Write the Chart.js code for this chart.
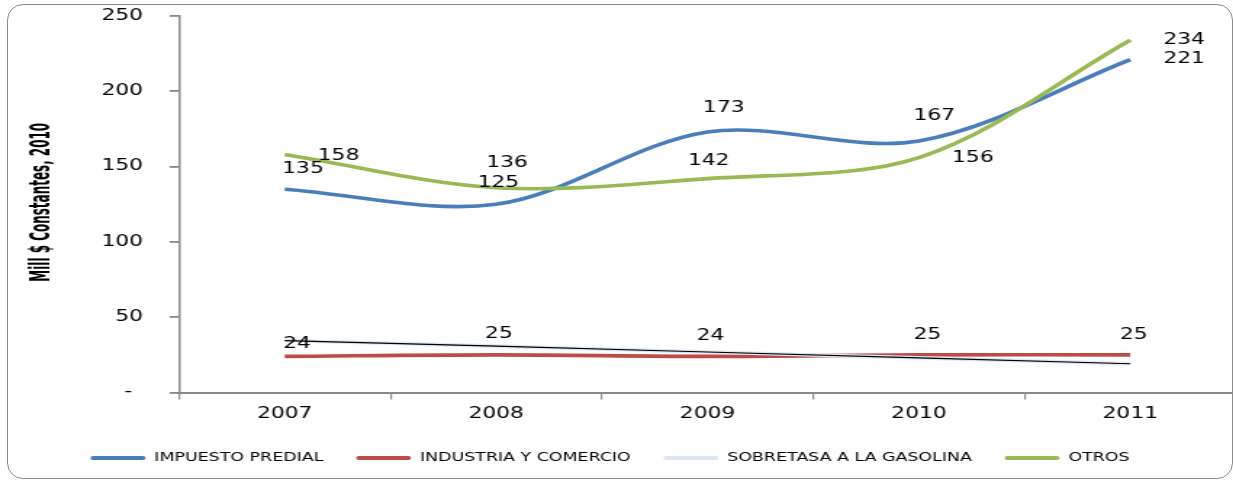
<!DOCTYPE html>
<html lang="es">
<head>
<meta charset="utf-8">
<title>Ingresos tributarios 2007-2011</title>
<script src="https://cdn.jsdelivr.net/npm/chart.js@4.4.1/dist/chart.umd.min.js"></script>
<style>
  html, body { margin: 0; padding: 0; background: #fff; overflow: hidden; }
  #wrap { position: relative; width: 1233px; height: 482px; overflow: hidden; }
  #grafico { position: absolute; left: 0; top: 0; }
  #marco {
    position: absolute; left: 7px; top: 4px; width: 1224px; height: 473px;
    border: 1.3px solid #8c8c8c; border-radius: 16px; pointer-events: none;
  }
</style>
</head>
<body>
<div id="wrap">
  <!-- the canvas is drawn narrow and widened with CSS, like the original export -->
  <canvas id="grafico" width="852" height="482" style="width:1236px;height:482px"></canvas>
  <div id="marco"></div>
</div>
<script>
const anios = ["2007", "2008", "2009", "2010", "2011"];
const predial = [135, 125, 173, 167, 221];
const industria = [24, 25, 24, 25, 25];
const sobretasa = [34.5, 30.8, 26.9, 23.0, 19.1];
const otros = [158, 136, 142, 156, 234];
const tendencia = [34.5, 30.8, 26.9, 23.0, 19.1];
const ticksY = [0, 50, 100, 150, 200, 250];
const tituloY = "Mill $ Constantes, 2010";

// where each value label sits relative to its point (canvas px)
const posPredial = [[12.6, -20.5], [1.6, -21], [11.2, -23.5], [10.6, -25.2], [37.2, -0.7]];
const posIndustria = [[8.5, -12.2], [1.9, -21], [2.1, -20], [5.8, -19.7], [2.3, -20]];
const posOtros = [[37.1, 1.3], [7.6, -25], [0.9, -17.7], [37.2, 0.5], [37.2, 0]];

const GRIS = "#8a8a8a";
const fuente = "'DejaVu Sans', Verdana, sans-serif";

// value labels next to the points
const etiquetas = {
  id: "etiquetas",
  afterDatasetsDraw(chart) {
    const ctx = chart.ctx;
    ctx.save();
    ctx.font = "15px " + fuente;
    ctx.fillStyle = "#000";
    ctx.textAlign = "center";
    ctx.textBaseline = "middle";
    chart.data.datasets.forEach((ds, i) => {
      if (!ds.posiciones) return;
      chart.getDatasetMeta(i).data.forEach((pt, j) => {
        const [dx, dy] = ds.posiciones[j];
        ctx.fillText(String(ds.data[j]), pt.x + dx, pt.y + dy);
      });
    });
    ctx.restore();
  }
};

// narrow bold axis title, squeezed along its length
const tituloEje = {
  id: "tituloEje",
  afterDraw(chart) {
    const ctx = chart.ctx;
    const area = chart.chartArea;
    ctx.save();
    ctx.translate(29.5, (area.top + area.bottom) / 2 - 2);
    ctx.rotate(-Math.PI / 2);
    ctx.scale(0.7, 1);
    ctx.font = "bold 19px 'DejaVu Sans Condensed', 'DejaVu Sans', sans-serif";
    ctx.fillStyle = "#000";
    ctx.textAlign = "center";
    ctx.textBaseline = "middle";
    ctx.fillText(tituloY, 0, 0);
    ctx.restore();
  }
};

function serie(label, data, color, order, extra) {
  return Object.assign({
    label,
    data,
    borderColor: color,
    backgroundColor: color,
    borderWidth: 3.6,
    pointRadius: 0,
    tension: 0.33,
    order
  }, extra || {});
}

new Chart(document.getElementById("grafico"), {
  type: "line",
  data: {
    labels: anios,
    datasets: [
      serie("IMPUESTO PREDIAL", predial, "#4a7ebb", 4, { posiciones: posPredial }),
      serie("INDUSTRIA Y COMERCIO", industria, "#be4b48", 3, { posiciones: posIndustria }),
      serie("SOBRETASA A LA GASOLINA", sobretasa, "#dce6f2", 2, { tension: 0 }),
      serie("OTROS", otros, "#98b954", 1, { posiciones: posOtros }),
      serie("tendencia", tendencia, "#000", 0, { borderWidth: 1.2, tension: 0 })
    ]
  },
  options: {
    responsive: false,
    animation: false,
    devicePixelRatio: 1,
    layout: { padding: { top: 16, left: -11, right: 0, bottom: 8 } },
    plugins: {
      tooltip: { enabled: false },
      legend: {
        position: "bottom",
        labels: {
          color: "#000",
          font: { family: fuente, size: 12 },
          boxWidth: 38,
          boxHeight: 4,
          padding: 22.5,
          useBorderRadius: true,
          borderRadius: 2,
          filter: (item) => item.text !== "tendencia",
          sort: (a, b) => a.datasetIndex - b.datasetIndex,
          generateLabels: (chart) =>
            Chart.defaults.plugins.legend.labels.generateLabels(chart)
              .map(l => Object.assign(l, { lineWidth: 0 }))
        }
      }
    },
    scales: {
      x: {
        offset: true,
        afterFit: (s) => { s.height = 37; },
        grid: { offset: true, drawOnChartArea: false, tickLength: 7, color: GRIS, lineWidth: 1.2 },
        border: { color: GRIS, width: 2 },
        ticks: { color: "#000", padding: 6, font: { family: fuente, size: 15 } }
      },
      y: {
        min: 0,
        max: 250,
        afterFit: (s) => {
          s.width = 134.4;
          // only half a label of room is needed above and below the axis
          s.paddingTop = 9;
          s.paddingBottom = 9;
        },
        afterBuildTicks: (s) => { s.ticks = ticksY.map(v => ({ value: v })); },
        grid: { drawOnChartArea: false, tickLength: 6.5, color: GRIS, lineWidth: 1.8 },
        border: { color: GRIS, width: 1.5 },
        ticks: {
          color: "#000",
          padding: 18.3,
          font: { family: fuente, size: 15 },
          callback: (v) => v === 0 ? "-\u2002" : v
        }
      }
    }
  },
  plugins: [etiquetas, tituloEje]
});
</script>
</body>
</html>
